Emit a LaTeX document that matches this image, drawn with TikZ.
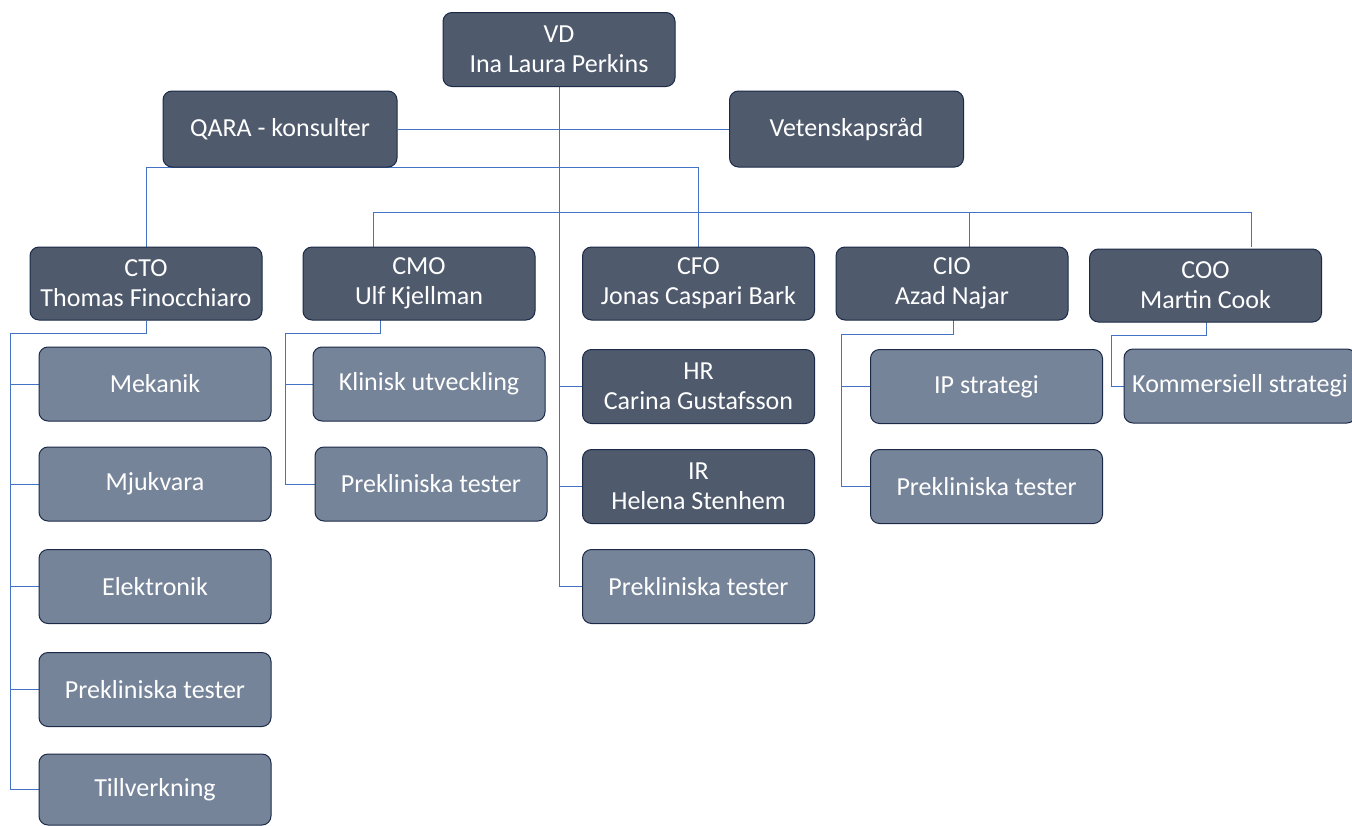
\documentclass[tikz,border=0pt]{standalone}
\usepackage{fontspec}
\setmainfont{Carlito}
\definecolor{darkfill}{HTML}{4F5A6D}
\definecolor{lightfill}{HTML}{768499}
\definecolor{boxborder}{HTML}{1C2A48}
\definecolor{linkblue}{HTML}{4472C4}
\pgfdeclarelayer{background}
\pgfsetlayers{background,main}
\tikzset{
  box/.style={rounded corners=9pt, draw=boxborder, line width=1pt, text=white,
    align=center, inner sep=0pt, minimum width=232pt, minimum height=74pt,
    font=\fontsize{26}{30}\selectfont},
  darkbox/.style={box, fill=darkfill},
  lightbox/.style={box, fill=lightfill},
  conn/.style={draw=linkblue, line width=1pt},
}
\begin{document}
\begin{tikzpicture}[x=1pt,y=-1pt]
\clip (0,0) rectangle (1352,825);
\coordinate (bus) at (559,212);
\coordinate (dcmo) at (373,247);
\coordinate (dcio) at (969,247);
\coordinate (dcoo) at (1251,247);
\coordinate (ucmo) at (380,320);
\coordinate (ucio) at (953,320);
\coordinate (ucoo) at (1206,322);
% nodes
\node[darkbox] (vd) at (559,49.5) {VD\\Ina Laura Perkins};
\node[darkbox, minimum width=234pt, minimum height=76pt] (qara) at (280,129) {QARA - konsulter};
\node[darkbox, minimum width=234pt, minimum height=76pt] (vet) at (846.5,129) {Vetenskapsråd};
\node[darkbox, minimum height=73pt] (cto) at (146,283.5) {CTO\\Thomas Finocchiaro};
\node[darkbox, minimum height=73pt] (cmo) at (419,283.5) {CMO\\Ulf Kjellman};
\node[darkbox, minimum height=73pt] (cfo) at (698.5,283.5) {CFO\\Jonas Caspari Bark};
\node[darkbox, minimum height=73pt] (cio) at (952,283.5) {CIO\\Azad Najar};
\node[darkbox, minimum height=73pt] (coo) at (1205.5,285.5) {COO\\Martin Cook};
\node[lightbox] (mek) at (155,384) {Mekanik};
\node[lightbox] (mju) at (155,484) {Mjukvara};
\node[lightbox] (ele) at (155,586.5) {Elektronik};
\node[lightbox] (pcto) at (155,689.5) {Prekliniska tester};
\node[lightbox, minimum height=71pt] (till) at (155,789.5) {Tillverkning};
\node[lightbox] (kli) at (429,384) {Klinisk utveckling};
\node[lightbox] (pcmo) at (431,484) {Prekliniska tester};
\node[darkbox] (hr) at (698.5,386.5) {HR\\Carina Gustafsson};
\node[darkbox] (ir) at (698.5,486.5) {IR\\Helena Stenhem};
\node[lightbox] (pcfo) at (698.5,586.5) {Prekliniska tester};
\node[lightbox] (ip) at (986.5,386.5) {IP strategi};
\node[lightbox] (pcio) at (986.5,486.5) {Prekliniska tester};
\node[lightbox] (kom) at (1240,386) {Kommersiell strategi};
\begin{pgfonlayer}{background}
\fill[white] (0,0) rectangle (1352,825);
\draw[conn] (vd.south) -- (vd.south |- pcfo.west) -- (pcfo.west);
\draw[conn] (vd.south |- hr.west) -- (hr.west);
\draw[conn] (vd.south |- ir.west) -- (ir.west);
\draw[conn] (qara.east) -- (vet.west);
\draw[conn] (cto.north) -- (cto.north |- qara.south) -- (cfo.north |- qara.south) -- (cfo.north);
\draw[conn] (dcmo) -- (dcmo |- bus) -- (dcoo |- bus) -- (dcoo);
\draw[conn] (dcio |- bus) -- (dcio);
% CTO children
\draw[conn] (cto.south) -- ++(0,13) -| (10,0 |- till.west) -- (till.west);
\draw[conn] (10,0 |- mek.west) -- (mek.west);
\draw[conn] (10,0 |- mju.west) -- (mju.west);
\draw[conn] (10,0 |- ele.west) -- (ele.west);
\draw[conn] (10,0 |- pcto.west) -- (pcto.west);
% CMO children
\draw[conn] (ucmo) -- ++(0,13) -| (285,0 |- pcmo.west) -- (pcmo.west);
\draw[conn] (285,0 |- kli.west) -- (kli.west);
% CIO children
\draw[conn] (ucio) -- ++(0,14) -| (841,0 |- pcio.west) -- (pcio.west);
\draw[conn] (841,0 |- ip.west) -- (ip.west);
% COO child
\draw[conn] (ucoo) -- ++(0,13) -| (1111,0 |- kom.west) -- (kom.west);
\end{pgfonlayer}
\end{tikzpicture}
\end{document}
